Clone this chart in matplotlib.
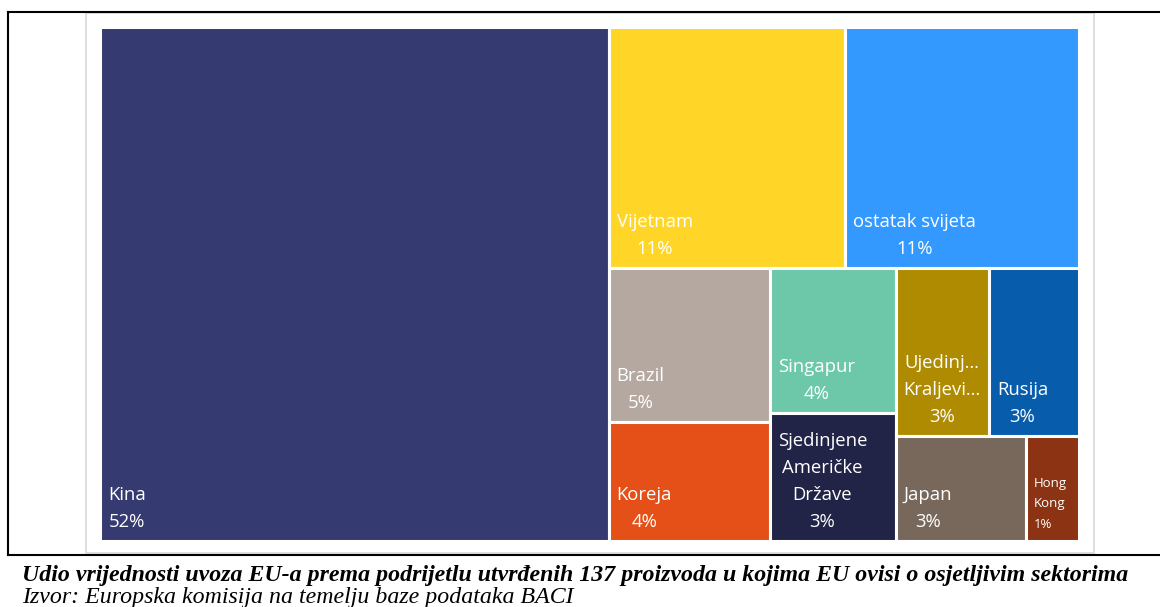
import matplotlib.pyplot as plt
from matplotlib.patches import Rectangle
from matplotlib.lines import Line2D

# udio vrijednosti uvoza EU-a (%), procijenjeno s grafikona
zemlje = ["Kina", "Vijetnam", "ostatak svijeta", "Brazil", "Koreja", "Singapur",
          "Sjedinjene\nAmeričke\nDržave", "Ujedinj…\nKraljevi…", "Rusija", "Japan",
          "Hong\nKong"]
udjeli = [51.8, 11.3, 11.2, 4.9, 3.8, 3.6, 3.2, 3.1, 3.0, 2.7, 1.1]
boje = ["#353B70", "#FFD628", "#3399FF", "#B5A8A1", "#E55019", "#6DC8A9",
        "#222447", "#AE8B00", "#075CAB", "#78685C", "#8B3312"]

naslov = ("Udio vrijednosti uvoza EU-a prema podrijetlu utvrđenih 137 proizvoda "
          "u kojima EU ovisi o osjetljivim sektorima")
izvor = "Izvor: Europska komisija na temelju baze podataka BACI"


def najgori(red, strana):
    s = sum(red)
    return max(max(strana ** 2 * r / s ** 2, s ** 2 / (strana ** 2 * r)) for r in red)


def squarify(povrsine, x, y, w, h):
    """Squarified treemap (Bruls i sur.), vraca listu (x, y, w, h)."""
    rez = []
    ostalo = list(povrsine)
    while ostalo:
        strana = min(w, h)
        red = [ostalo[0]]
        i = 1
        while i < len(ostalo) and najgori(red + [ostalo[i]], strana) <= najgori(red, strana):
            red.append(ostalo[i])
            i += 1
        s = sum(red)
        if w >= h:
            t = s / h
            yy = y
            for r in red:
                rez.append((x, yy, t, r / t))
                yy += r / t
            x += t
            w -= t
        else:
            t = s / w
            xx = x
            for r in red:
                rez.append((xx, y, r / t, t))
                xx += r / t
            y += t
            h -= t
        ostalo = ostalo[i:]
    return rez


FW, FH = 1160, 607
fig = plt.figure(figsize=(FW / 100, FH / 100), dpi=100)

# okvir grafikona (svijetlo sivi)
fig.add_artist(Rectangle((86 / FW, 1 - 553 / FH), (1094 - 86) / FW, (553 - 13) / FH,
                         transform=fig.transFigure, fill=False,
                         edgecolor="#D9D9D9", lw=1.2))

# crne linije tablice
crta = dict(color="black", lw=1.5, transform=fig.transFigure)
fig.add_artist(Line2D([8 / FW, 1], [1 - 12 / FH] * 2, **crta))
fig.add_artist(Line2D([8 / FW, 1], [1 - 555 / FH] * 2, **crta))
fig.add_artist(Line2D([8 / FW] * 2, [1 - 12 / FH, 1 - 555 / FH], **crta))

W, H = 979, 514
ax = fig.add_axes([100 / FW, 1 - 541 / FH, W / FW, H / FH])
ukupno = sum(udjeli)
povrsine = [v / ukupno * W * H for v in udjeli]
pravokutnici = squarify(povrsine, 0, 0, W, H)

for (x, y, w, h), ime, v, c in zip(pravokutnici, zemlje, udjeli, boje):
    ax.add_patch(Rectangle((x, y), w, h, facecolor=c, edgecolor="white", lw=2.2))
    mali = ime.startswith("Hong")
    ax.annotate(f"{ime}\n{round(v / ukupno * 100)}%", xy=(x, y + h),
                xytext=(8, 10), textcoords="offset pixels",
                ha="left", va="bottom",
                multialignment="left" if mali else "center",
                color="white", fontsize=9.5 if mali else 13.3,
                fontfamily="Open Sans", linespacing=1.75 if mali else 1.65)

ax.set_xlim(0, W)
ax.set_ylim(H, 0)
ax.axis("off")

fig.text(22 / FW, 1 - 581 / FH, naslov, fontfamily="Liberation Serif",
         fontstyle="italic", fontweight="bold", fontsize=17.2, va="baseline")
fig.text(22 / FW, 1 - 603 / FH, izvor, fontfamily="Liberation Serif",
         fontstyle="italic", fontsize=17.2, va="baseline")

fig.savefig("out.png", dpi=100)
